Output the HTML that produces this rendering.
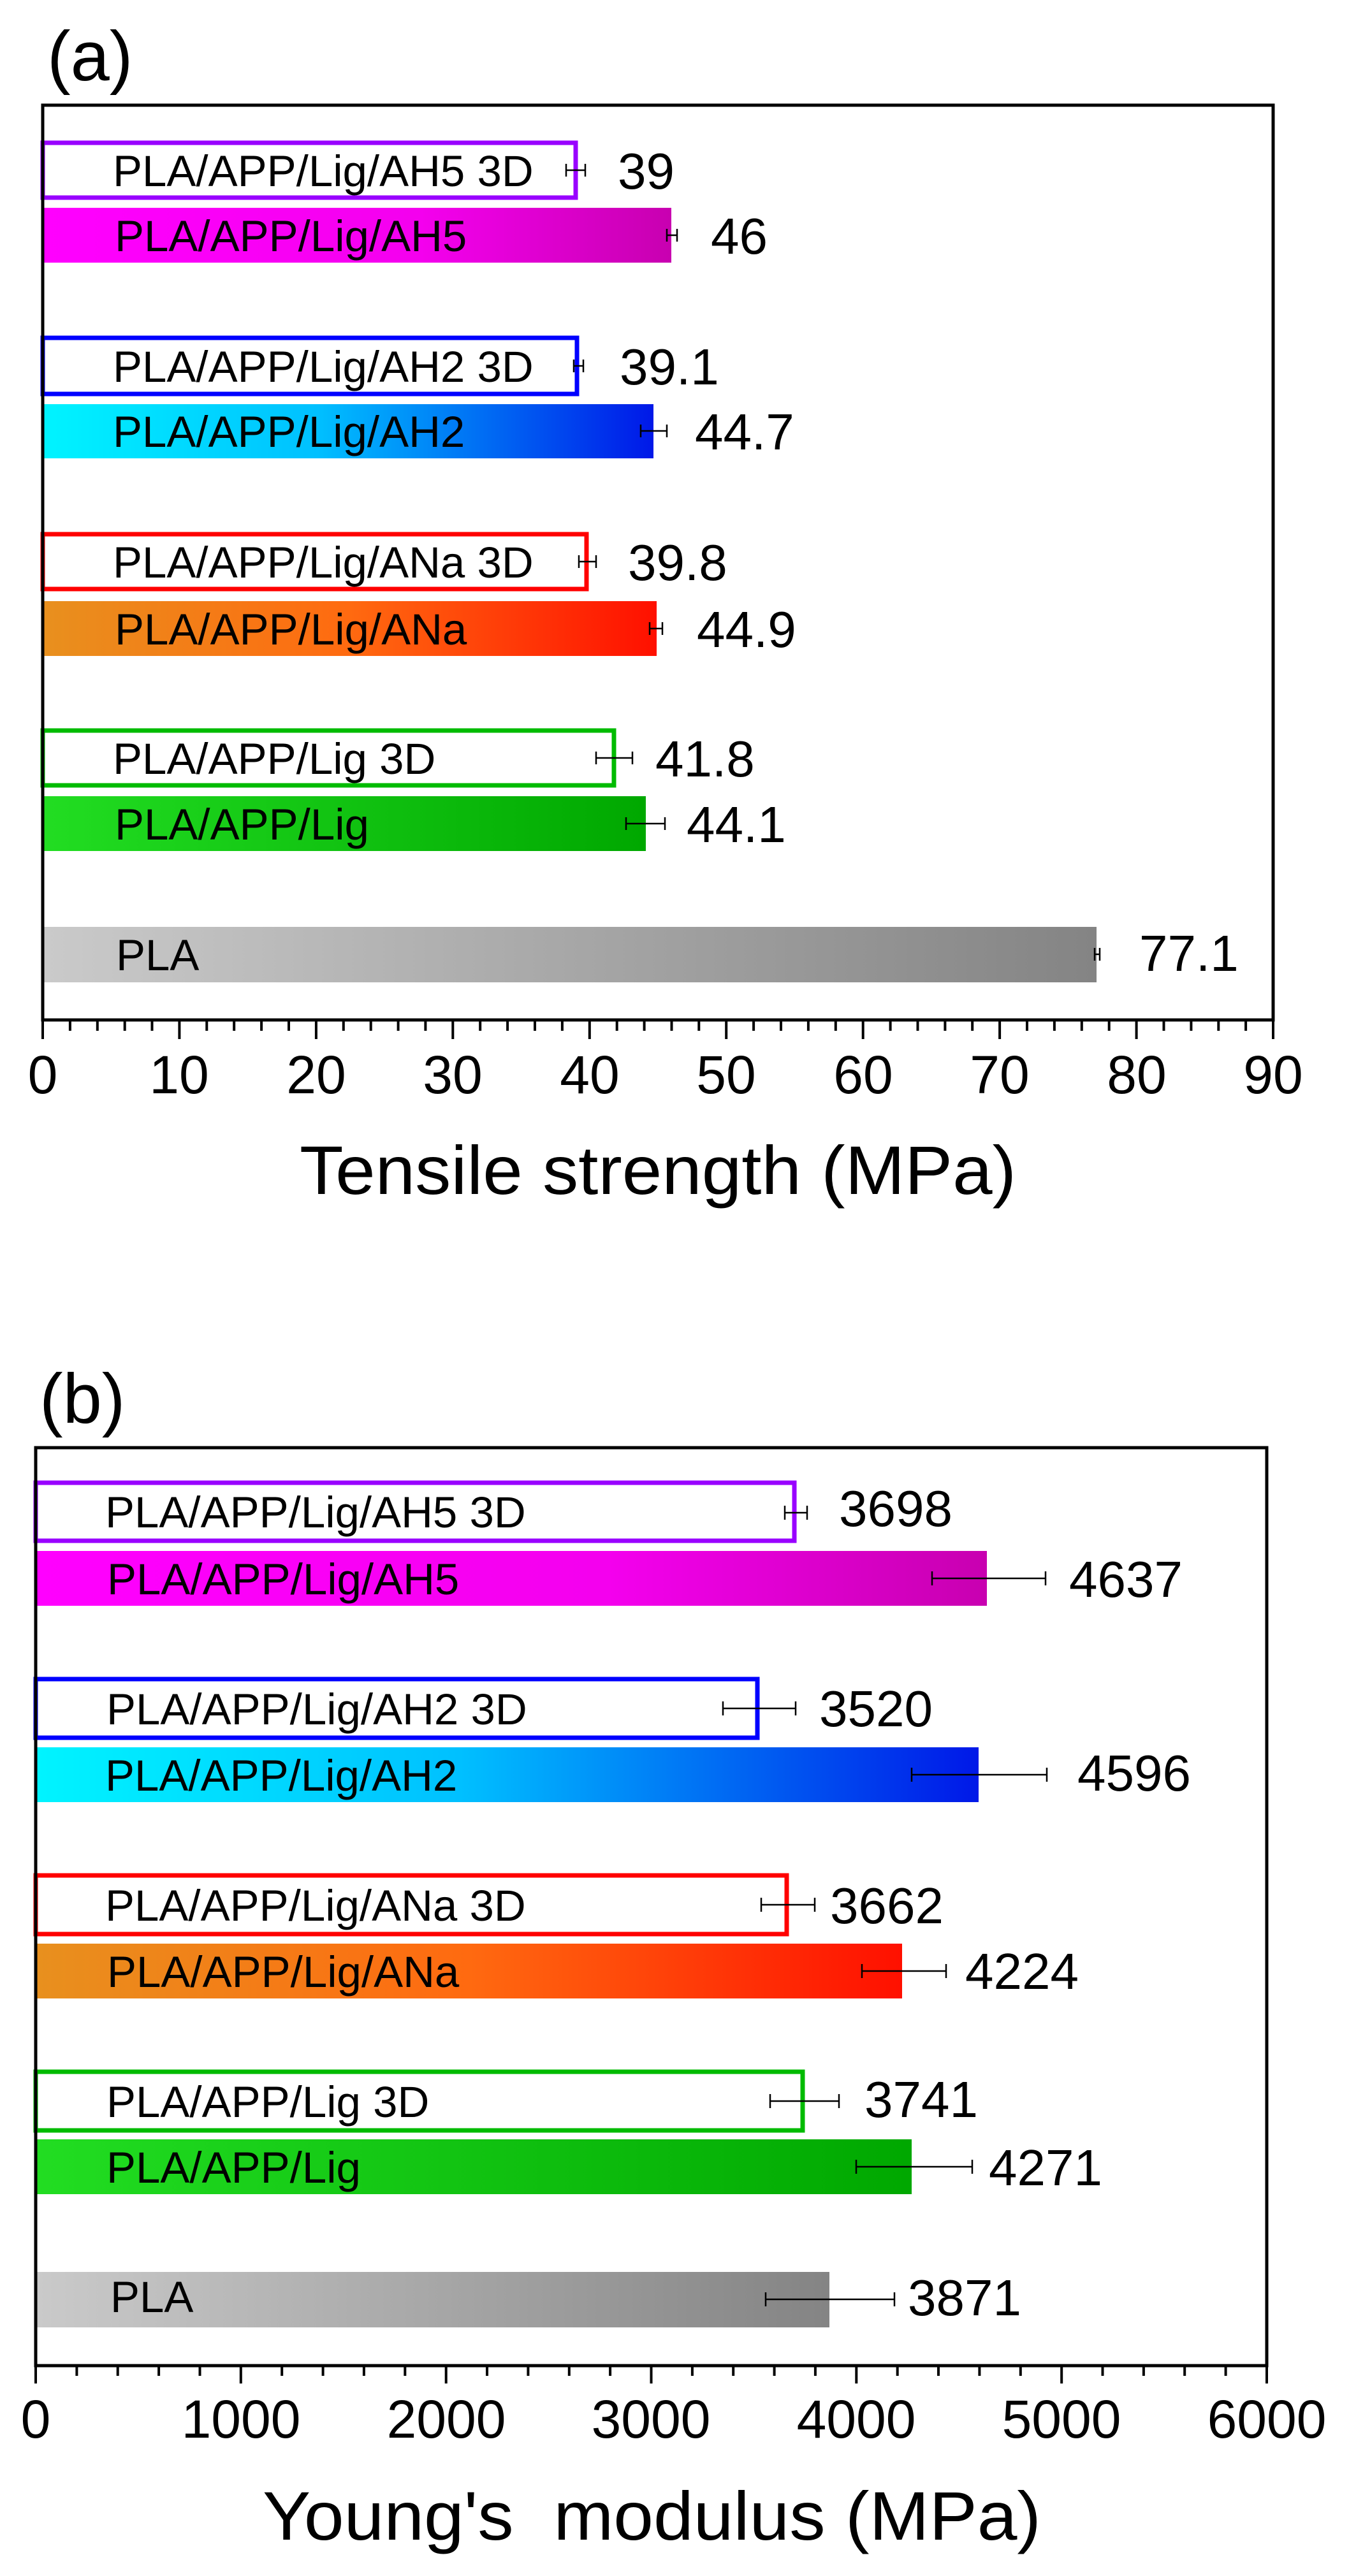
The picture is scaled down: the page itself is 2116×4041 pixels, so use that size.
<!DOCTYPE html>
<html><head><meta charset="utf-8"><style>
html,body{margin:0;padding:0;background:#fff;}
svg{display:block;}
text{font-family:"Liberation Sans",Arial,sans-serif;fill:#000;}
</style></head><body>
<svg width="2116" height="4041" viewBox="0 0 2116 4041" xmlns="http://www.w3.org/2000/svg">
<defs>
<linearGradient id="gm" x1="0" x2="1"><stop offset="0" stop-color="#ff00ff"/><stop offset="0.6" stop-color="#f400ee"/><stop offset="1" stop-color="#c800b0"/></linearGradient>
<linearGradient id="gc" x1="0" x2="1"><stop offset="0" stop-color="#00f4ff"/><stop offset="0.45" stop-color="#00c0ff"/><stop offset="1" stop-color="#0018e8"/></linearGradient>
<linearGradient id="go" x1="0" x2="1"><stop offset="0" stop-color="#e8901e"/><stop offset="0.5" stop-color="#ff6a10"/><stop offset="1" stop-color="#ff1000"/></linearGradient>
<linearGradient id="gg" x1="0" x2="1"><stop offset="0" stop-color="#22dd22"/><stop offset="1" stop-color="#00a800"/></linearGradient>
<linearGradient id="gp" x1="0" x2="1"><stop offset="0" stop-color="#cacaca"/><stop offset="1" stop-color="#848484"/></linearGradient>
</defs>

<!-- ===== Panel (a) ===== -->
<text x="74" y="126" font-size="110">(a)</text>
<rect x="67" y="224" width="836" height="86" fill="none" stroke="#9900ff" stroke-width="7"/>
<rect x="67" y="326" width="986" height="86" fill="url(#gm)"/>
<rect x="67" y="530" width="838" height="88" fill="none" stroke="#0000ff" stroke-width="7"/>
<rect x="67" y="634" width="958" height="85" fill="url(#gc)"/>
<rect x="67" y="838" width="853" height="86" fill="none" stroke="#ff0000" stroke-width="7"/>
<rect x="67" y="943" width="963" height="86" fill="url(#go)"/>
<rect x="67" y="1146" width="896" height="86" fill="none" stroke="#00bb00" stroke-width="7"/>
<rect x="67" y="1249" width="946" height="86" fill="url(#gg)"/>
<rect x="67" y="1454" width="1653" height="87" fill="url(#gp)"/>
<g stroke="#000" stroke-width="2.5">
<path d="M888 267H918M888 257V277M918 257V277"/>
<path d="M1046 369H1062M1046 359V379M1062 359V379"/>
<path d="M900 574H915M900 564V584M915 564V584"/>
<path d="M1005 676H1046M1005 666V686M1046 666V686"/>
<path d="M908 881H935M908 871V891M935 871V891"/>
<path d="M1019 986H1039M1019 976V996M1039 976V996"/>
<path d="M935 1189H992M935 1179V1199M992 1179V1199"/>
<path d="M982 1292H1043M982 1282V1302M1043 1282V1302"/>
<path d="M1717 1497H1725M1717 1487V1507M1725 1487V1507"/>
</g>
<g font-size="69">
<text x="177" y="292">PLA/APP/Lig/AH5 3D</text>
<text x="180" y="394">PLA/APP/Lig/AH5</text>
<text x="177" y="599">PLA/APP/Lig/AH2 3D</text>
<text x="177" y="701">PLA/APP/Lig/AH2</text>
<text x="177" y="906">PLA/APP/Lig/ANa 3D</text>
<text x="180" y="1011">PLA/APP/Lig/ANa</text>
<text x="177" y="1214">PLA/APP/Lig 3D</text>
<text x="180" y="1317">PLA/APP/Lig</text>
<text x="182" y="1522">PLA</text>
</g>
<g font-size="80">
<text x="969" y="296">39</text>
<text x="1115" y="398">46</text>
<text x="972" y="603">39.1</text>
<text x="1090" y="705">44.7</text>
<text x="985" y="910">39.8</text>
<text x="1093" y="1015">44.9</text>
<text x="1028" y="1218">41.8</text>
<text x="1077" y="1321">44.1</text>
<text x="1787" y="1523">77.1</text>
</g>
<rect x="67" y="165" width="1930" height="1435" fill="none" stroke="#000" stroke-width="5"/>
<g stroke="#000" stroke-width="4">
<path d="M67 1600V1630M281.4 1600V1630M495.9 1600V1630M710.3 1600V1630M924.8 1600V1630M1139.2 1600V1630M1353.7 1600V1630M1568.1 1600V1630M1782.6 1600V1630M1997 1600V1630"/>
<path d="M109.9 1600V1617M152.8 1600V1617M195.7 1600V1617M238.5 1600V1617M324.3 1600V1617M367.2 1600V1617M410.1 1600V1617M453 1600V1617M538.8 1600V1617M581.7 1600V1617M624.6 1600V1617M667.4 1600V1617M753.2 1600V1617M796.1 1600V1617M839 1600V1617M881.9 1600V1617M967.7 1600V1617M1010.6 1600V1617M1053.5 1600V1617M1096.3 1600V1617M1182.1 1600V1617M1225 1600V1617M1267.9 1600V1617M1310.8 1600V1617M1396.6 1600V1617M1439.5 1600V1617M1482.4 1600V1617M1525.2 1600V1617M1611 1600V1617M1653.9 1600V1617M1696.8 1600V1617M1739.7 1600V1617M1825.5 1600V1617M1868.4 1600V1617M1911.3 1600V1617M1954.1 1600V1617"/>
</g>
<g font-size="84" text-anchor="middle">
<text x="67" y="1715">0</text><text x="281" y="1715">10</text><text x="496" y="1715">20</text><text x="710" y="1715">30</text><text x="925" y="1715">40</text><text x="1139" y="1715">50</text><text x="1354" y="1715">60</text><text x="1568" y="1715">70</text><text x="1783" y="1715">80</text><text x="1997" y="1715">90</text>
</g>
<text x="470" y="1873" font-size="108" textLength="1124" lengthAdjust="spacingAndGlyphs">Tensile strength (MPa)</text>

<!-- ===== Panel (b) ===== -->
<text x="62" y="2232" font-size="110">(b)</text>
<rect x="56" y="2326" width="1190" height="91" fill="none" stroke="#9900ff" stroke-width="7"/>
<rect x="56" y="2433" width="1492" height="86" fill="url(#gm)"/>
<rect x="56" y="2634" width="1132" height="92" fill="none" stroke="#0000ff" stroke-width="7"/>
<rect x="56" y="2741" width="1479" height="86" fill="url(#gc)"/>
<rect x="56" y="2942" width="1178" height="92" fill="none" stroke="#ff0000" stroke-width="7"/>
<rect x="56" y="3049" width="1359" height="86" fill="url(#go)"/>
<rect x="56" y="3250" width="1203" height="92" fill="none" stroke="#00bb00" stroke-width="7"/>
<rect x="56" y="3356" width="1374" height="86" fill="url(#gg)"/>
<rect x="56" y="3564" width="1245" height="87" fill="url(#gp)"/>
<g stroke="#000" stroke-width="2.5">
<path d="M1231 2373H1266M1231 2362V2384M1266 2362V2384"/>
<path d="M1462 2476H1640M1462 2465V2487M1640 2465V2487"/>
<path d="M1134 2680H1248M1134 2669V2691M1248 2669V2691"/>
<path d="M1430 2784H1642M1430 2773V2795M1642 2773V2795"/>
<path d="M1194 2988H1278M1194 2977V2999M1278 2977V2999"/>
<path d="M1352 3092H1484M1352 3081V3103M1484 3081V3103"/>
<path d="M1208 3296H1316M1208 3285V3307M1316 3285V3307"/>
<path d="M1343 3399H1525M1343 3388V3410M1525 3388V3410"/>
<path d="M1201 3607H1403M1201 3596V3618M1403 3596V3618"/>
</g>
<g font-size="69">
<text x="165" y="2396">PLA/APP/Lig/AH5 3D</text>
<text x="168" y="2501">PLA/APP/Lig/AH5</text>
<text x="167" y="2705">PLA/APP/Lig/AH2 3D</text>
<text x="165" y="2809">PLA/APP/Lig/AH2</text>
<text x="165" y="3013">PLA/APP/Lig/ANa 3D</text>
<text x="168" y="3117">PLA/APP/Lig/ANa</text>
<text x="167" y="3321">PLA/APP/Lig 3D</text>
<text x="167" y="3424">PLA/APP/Lig</text>
<text x="173" y="3627">PLA</text>
</g>
<g font-size="80">
<text x="1316" y="2394">3698</text>
<text x="1677" y="2505">4637</text>
<text x="1285" y="2708">3520</text>
<text x="1690" y="2809">4596</text>
<text x="1302" y="3017">3662</text>
<text x="1514" y="3120">4224</text>
<text x="1356" y="3321">3741</text>
<text x="1551" y="3428">4271</text>
<text x="1424" y="3632">3871</text>
</g>
<rect x="56" y="2271" width="1931" height="1440" fill="none" stroke="#000" stroke-width="5"/>
<g stroke="#000" stroke-width="4">
<path d="M56 3711V3739M377.8 3711V3739M699.7 3711V3739M1021.5 3711V3739M1343.3 3711V3739M1665.2 3711V3739M1987 3711V3739"/>
<path d="M120.4 3711V3727M184.7 3711V3727M249.1 3711V3727M313.5 3711V3727M442.2 3711V3727M506.6 3711V3727M570.9 3711V3727M635.3 3711V3727M764 3711V3727M828.4 3711V3727M892.8 3711V3727M957.1 3711V3727M1085.9 3711V3727M1150.2 3711V3727M1214.6 3711V3727M1278.9 3711V3727M1407.7 3711V3727M1472 3711V3727M1536.4 3711V3727M1600.8 3711V3727M1729.5 3711V3727M1793.9 3711V3727M1858.2 3711V3727M1922.6 3711V3727"/>
</g>
<g font-size="84" text-anchor="middle">
<text x="56" y="3824">0</text><text x="378" y="3824">1000</text><text x="700" y="3824">2000</text><text x="1021" y="3824">3000</text><text x="1343" y="3824">4000</text><text x="1665" y="3824">5000</text><text x="1987" y="3824">6000</text>
</g>
<text x="412" y="3984" font-size="108" textLength="1221" lengthAdjust="spacingAndGlyphs" xml:space="preserve">Young's  modulus (MPa)</text>
</svg>
</body></html>
